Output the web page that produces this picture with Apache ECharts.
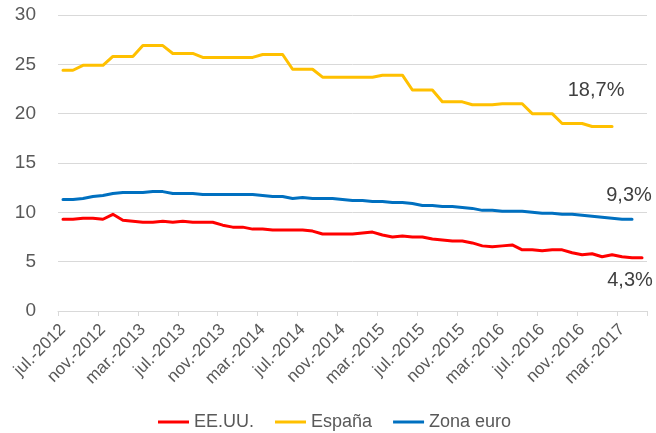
<!DOCTYPE html>
<html>
<head>
<meta charset="utf-8">
<script src="https://cdn.jsdelivr.net/npm/echarts@6/dist/echarts.min.js"></script>
<style>
  html, body { margin: 0; padding: 0; background: #fff; }
  #chart { width: 656px; height: 433px; }
</style>
</head>
<body>
<div id="chart"></div>
<script>
// meses (jul.-2012 .. may.-2017)
const mesesAbrev = ['ene.', 'feb.', 'mar.', 'abr.', 'may.', 'jun.', 'jul.', 'ago.', 'sep.', 'oct.', 'nov.', 'dic.'];
const categorias = [];
for (let k = 0; k < 59; k++) {
  const m = (6 + k) % 12;
  const y = 2012 + Math.floor((6 + k) / 12);
  categorias.push(mesesAbrev[m] + '-' + y);
}

// tasa de paro (%)
const eeuu = [
  9.3, 9.3, 9.4, 9.4, 9.3, 9.8, 9.2, 9.1, 9.0, 9.0,
  9.1, 9.0, 9.1, 9.0, 9.0, 9.0, 8.7, 8.5, 8.5, 8.3,
  8.3, 8.2, 8.2, 8.2, 8.2, 8.1, 7.8, 7.8, 7.8, 7.8,
  7.9, 8.0, 7.7, 7.5, 7.6, 7.5, 7.5, 7.3, 7.2, 7.1,
  7.1, 6.9, 6.6, 6.5, 6.6, 6.7, 6.2, 6.2, 6.1, 6.2,
  6.2, 5.9, 5.7, 5.8, 5.5, 5.7, 5.5, 5.4, 5.4
];
const espana = [
  24.4, 24.4, 24.9, 24.9, 24.9, 25.8, 25.8, 25.8, 26.9, 26.9,
  26.9, 26.1, 26.1, 26.1, 25.7, 25.7, 25.7, 25.7, 25.7, 25.7,
  26.0, 26.0, 26.0, 24.5, 24.5, 24.5, 23.7, 23.7, 23.7, 23.7,
  23.7, 23.7, 23.9, 23.9, 23.9, 22.4, 22.4, 22.4, 21.2, 21.2,
  21.2, 20.9, 20.9, 20.9, 21.0, 21.0, 21.0, 20.0, 20.0, 20.0,
  19.0, 19.0, 19.0, 18.7, 18.7, 18.7, null, null, null
];
const zonaEuro = [
  11.3, 11.3, 11.4, 11.6, 11.7, 11.9, 12.0, 12.0, 12.0, 12.1,
  12.1, 11.9, 11.9, 11.9, 11.8, 11.8, 11.8, 11.8, 11.8, 11.8,
  11.7, 11.6, 11.6, 11.4, 11.5, 11.4, 11.4, 11.4, 11.3, 11.2,
  11.2, 11.1, 11.1, 11.0, 11.0, 10.9, 10.7, 10.7, 10.6, 10.6,
  10.5, 10.4, 10.2, 10.2, 10.1, 10.1, 10.1, 10.0, 9.9, 9.9,
  9.8, 9.8, 9.7, 9.6, 9.5, 9.4, 9.3, 9.3, null
];

// etiquetas de ultimo dato
const ultimoEspana = { idx: 55, texto: '18,7%' };
const ultimoZona = { idx: 57, texto: '9,3%' };
const ultimoEeuu = { idx: 58, texto: '4,3%' };

const fuente = '"Liberation Sans", Arial, sans-serif';

function etiquetaFinal(datos, ultimo, offset) {
  return {
    symbol: 'circle',
    symbolSize: 0,
    silent: true,
    label: {
      show: true,
      position: 'inside',
      offset: offset,
      formatter: ultimo.texto,
      fontFamily: fuente,
      fontSize: 20,
      color: '#404040'
    },
    data: [{ coord: [categorias[ultimo.idx], datos[ultimo.idx]] }]
  };
}

function serie(nombre, datos, color, marca) {
  return {
    name: nombre,
    type: 'line',
    data: datos,
    symbol: 'none',
    connectNulls: false,
    lineStyle: { color: color, width: 3, cap: 'round', join: 'round' },
    itemStyle: { color: color },
    markPoint: marca,
    animation: false
  };
}

const chart = echarts.init(document.getElementById('chart'));
chart.setOption({
  animation: false,
  grid: { left: 58, right: 9, top: 15, bottom: 122 },
  legend: {
    data: ['EE.UU.', 'España', 'Zona euro'],
    left: 153,
    top: 408,
    icon: 'rect',
    itemWidth: 31,
    itemHeight: 3,
    itemGap: 21,
    textStyle: { fontFamily: fuente, fontSize: 18, color: '#595959' }
  },
  xAxis: {
    type: 'category',
    data: categorias,
    boundaryGap: true,
    axisLine: { lineStyle: { color: '#D9D9D9', width: 1 } },
    axisTick: { show: true, interval: 3, length: 5, lineStyle: { color: '#D9D9D9' } },
    axisLabel: {
      interval: 3,
      rotate: 45,
      margin: 16,
      fontFamily: fuente,
      fontSize: 17,
      color: '#595959'
    },
    splitLine: { show: false }
  },
  yAxis: {
    type: 'value',
    min: 0,
    max: 30,
    interval: 5,
    axisLine: { show: false },
    axisTick: { show: false },
    axisLabel: { margin: 22, fontFamily: fuente, fontSize: 19, color: '#595959' },
    splitLine: { lineStyle: { color: '#D9D9D9', width: 1 } }
  },
  series: [
    serie('EE.UU.', eeuu, '#FF0000', etiquetaFinal(eeuu, ultimoEeuu, [-12, 23])),
    serie('España', espana, '#FFC000', etiquetaFinal(espana, ultimoEspana, [-16, -36])),
    serie('Zona euro', zonaEuro, '#0070C0', etiquetaFinal(zonaEuro, ultimoZona, [-3, -24]))
  ]
});
</script>
</body>
</html>
